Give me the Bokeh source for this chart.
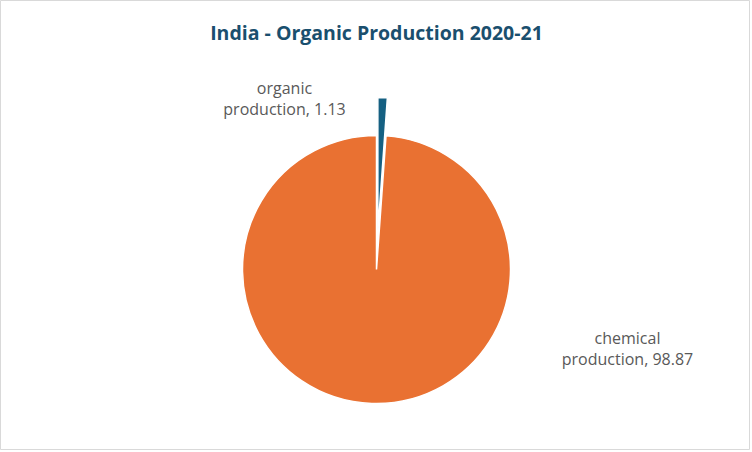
import numpy as np
from bokeh.plotting import figure
from bokeh.models import Range1d, Label, ColumnDataSource
from bokeh.core.properties import value
from bokeh.embed import file_html
from bokeh.resources import INLINE

# data
title_text = "India - Organic Production 2020-21"
categories = ["organic production", "chemical production"]
shares = [1.13, 98.87]
colors = ["#156082", "#E97132"]

W, H = 750, 450

p = figure(width=W, height=H, output_backend="svg", toolbar_location=None,
           x_range=Range1d(0, W), y_range=Range1d(0, H), min_border=0)
p.axis.visible = False
p.grid.visible = False
p.outline_line_color = "#D9D9D9"
p.outline_line_width = 1
p.background_fill_color = "white"
p.border_fill_color = "white"

# pie geometry (screen units)
cx, cy, r = 376, 181, 134
explode = [38, 0]

fracs = np.array(shares) / sum(shares)
ends = np.cumsum(fracs) * 2 * np.pi
starts = ends - fracs * 2 * np.pi
start_ang = np.pi / 2 - starts
end_ang = np.pi / 2 - ends
mid_ang = (start_ang + end_ang) / 2

xs = cx + np.array(explode) * np.cos(mid_ang)
ys = cy + np.array(explode) * np.sin(mid_ang)

src = ColumnDataSource(dict(x=xs, y=ys, s=start_ang, e=end_ang, c=colors))
p.wedge(x="x", y="y", radius=r, start_angle="s", end_angle="e", direction="clock",
        fill_color="c", line_color="white", line_width=1.5, source=src)

# data labels
label_pos = [(284, 363), (627, 113)]
for (lx, ly), name, v in zip(label_pos, categories, shares):
    first, second = name.split(" ", 1)
    p.text(x=[lx, lx], y=[ly, ly - 21], text=[first, f"{second}, {v}"],
           text_font=value("Open Sans"), text_font_size="16px", text_color="#595959",
           text_align="center", text_baseline="middle")

p.add_layout(Label(x=376, y=418, text=title_text, text_font="Open Sans",
                   text_font_style="bold", text_font_size="19.5px", text_color="#1A4F6E",
                   text_align="center", text_baseline="middle"))

open("out.html", "w").write(file_html(p, INLINE))
